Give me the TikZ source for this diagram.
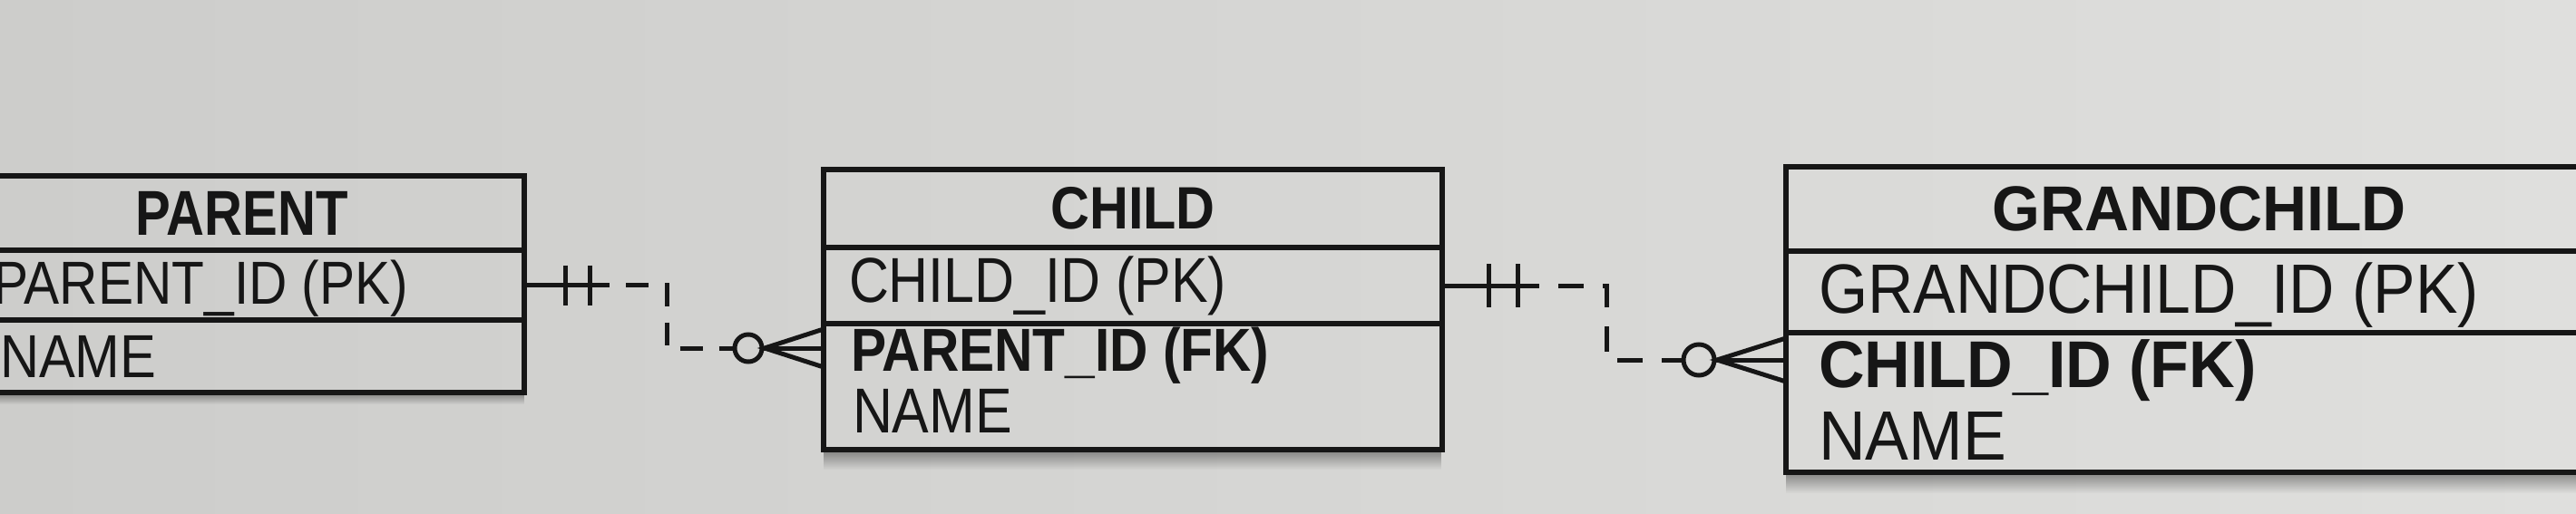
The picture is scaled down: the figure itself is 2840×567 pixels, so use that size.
\documentclass[tikz,border=0pt]{standalone}
\usepackage{fontspec}
\usepackage{graphicx}
\setmainfont{Liberation Sans}
\usetikzlibrary{calc,fadings}
\definecolor{bgL}{RGB}{205,205,203}
\definecolor{bgR}{RGB}{223,223,221}
\definecolor{ink}{RGB}{22,22,22}
\tikzfading[name=shadowfade, top color=transparent!0, bottom color=transparent!100]
\newcommand{\sq}[2]{\scalebox{#1}[1]{#2}}
\newcommand{\fs}[1]{\fontsize{#1}{#1}\selectfont}
\begin{document}
\begin{tikzpicture}[x=1pt,y=-1pt,
  box/.style={draw=ink, line width=6pt, anchor=north west, inner sep=0pt, outer sep=0pt},
  fld/.style={anchor=base west, inner sep=0pt, outer sep=0pt, text=ink},
  conn/.style={draw=ink, line width=5pt},
  dsh1/.style={conn, dash pattern=on 25pt off 18pt, dash phase=25pt},
  dsh2/.style={conn, dash pattern=on 28pt off 21pt, dash phase=28pt},
  ring/.style={circle, draw=ink, line width=5pt, inner sep=0pt, outer sep=0pt},
  shadowband/.style={fill=black, opacity=0.4, path fading=shadowfade},
]
\useasboundingbox (0,0) rectangle (2840,567);
\shade[left color=bgL, right color=bgR] (0,0) rectangle (2840,567);
\clip (0,0) rectangle (2840,567);

% shadows
\fill[shadowband] (-45,433) rectangle (578,446);
\fill[shadowband] (908,496) rectangle (1590,518);
\fill[shadowband] (1969,521) rectangle (2880,544);

% PARENT
\node[box, minimum width=623pt, minimum height=82pt, font=\fs{70}\bfseries, text=ink] (Ph) at (-45,194) {\sq{0.83}{PARENT}};
\node[box, minimum width=623pt, minimum height=77pt] (Ppk) at (-45,276) {};
\node[box, minimum width=623pt, minimum height=80pt] (Prest) at (-45,353) {};
\node[fld, font=\fs{67}] (tPpk) at (-8,335) {\sq{0.875}{PARENT\_ID (PK)}};
\node[fld, font=\fs{67}] (tPname) at (0,416) {\sq{0.89}{NAME}};

% CHILD
\node[box, minimum width=682pt, minimum height=86pt, font=\fs{66}\bfseries, text=ink] (Ch) at (908,187) {\sq{0.90}{CHILD}};
\node[box, minimum width=682pt, minimum height=84pt] (Cpk) at (908,273) {};
\node[box, minimum width=682pt, minimum height=139pt] (Crest) at (908,357) {};
\node[fld, font=\fs{70}] (tCpk) at (936,333) {\sq{0.87}{CHILD\_ID (PK)}};
\node[fld, font=\fs{67}\bfseries] (tCfk) at (938,409) {\sq{0.875}{PARENT\_ID (FK)}};
\node[fld, font=\fs{70}] (tCname) at (940,477) {\sq{0.87}{NAME}};

% GRANDCHILD
\node[box, minimum width=911pt, minimum height=93pt, font=\fs{70}\bfseries, text=ink] (Gh) at (1969,184) {\sq{0.97}{GRANDCHILD}};
\node[box, minimum width=911pt, minimum height=90pt] (Gpk) at (1969,277) {};
\node[box, minimum width=911pt, minimum height=154pt] (Grest) at (1969,367) {};
\node[fld, font=\fs{77}] (tGpk) at (2005,345) {\sq{0.905}{GRANDCHILD\_ID (PK)}};
\node[fld, font=\fs{73}\bfseries] (tGfk) at (2005,427) {\sq{0.96}{CHILD\_ID (FK)}};
\node[fld, font=\fs{77}] (tGname) at (2005,507) {\sq{0.93}{NAME}};

% connector PARENT -> CHILD
\node[ring, minimum size=30pt] (c1o) at (825,384) {};
\coordinate (c1t) at (Crest.west |- c1o);
\draw[conn] (Ppk.east) -- ++(94,0) coordinate (c1s);
\draw[conn] ($(Ppk.east)+(45,-22)$) -- ++(0,44);
\draw[conn] ($(Ppk.east)+(72,-22)$) -- ++(0,44);
\draw[dsh1] (c1s) -- ++(63,0) |- (c1o.west);
\draw[conn] (c1o.east) -- (c1t);
\draw[conn] ($(c1t)+(0,-21)$) -- ($(c1o.east)+(3,0)$) -- ($(c1t)+(0,21)$);

% connector CHILD -> GRANDCHILD
\node[ring, minimum size=34pt] (c2o) at (1873,397) {};
\coordinate (c2t) at (Grest.west |- c2o);
\draw[conn] (Cpk.east) -- ++(107,0) coordinate (c2s);
\draw[conn] ($(Cpk.east)+(51,-24)$) -- ++(0,48);
\draw[conn] ($(Cpk.east)+(83,-24)$) -- ++(0,48);
\draw[dsh2] (c2s) -- ++(74,0) |- (c2o.west);
\draw[conn] (c2o.east) -- (c2t);
\draw[conn] ($(c2t)+(0,-24)$) -- ($(c2o.east)+(3,0)$) -- ($(c2t)+(0,24)$);
\end{tikzpicture}
\end{document}
